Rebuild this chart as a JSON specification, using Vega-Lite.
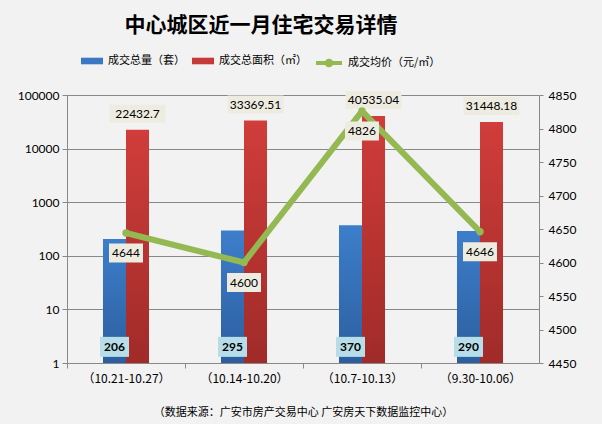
{
  "$schema": "https://vega.github.io/schema/vega-lite/v6.json",
  "width": 472,
  "height": 268,
  "autosize": {"type": "none"},
  "padding": {"left": 67, "top": 95, "right": 63, "bottom": 61},
  "background": "#f2f2f2",
  "config": {
    "view": {"stroke": null},
    "font": "Noto Sans CJK SC",
    "axis": {
      "labelFont": "Lato",
      "labelFontSize": 12,
      "labelColor": "#000000",
      "domainColor": "#888888",
      "tickColor": "#888888",
      "gridColor": "#888888",
      "domainWidth": 1,
      "tickWidth": 1,
      "gridWidth": 1,
      "title": null
    }
  },
  "title": {
    "text": "中心城区近一月住宅交易详情",
    "font": "Noto Sans CJK SC",
    "fontSize": 21,
    "fontWeight": "bold",
    "color": "#000000",
    "anchor": "middle",
    "frame": "group",
    "dx": -42,
    "offset": 12
  },
  "datasets": {
    "bars": [
      {"period": "（10.21-10.27）", "series": "成交总量（套）", "value": 206},
      {"period": "（10.21-10.27）", "series": "成交总面积（㎡）", "value": 22432.7},
      {"period": "（10.14-10.20）", "series": "成交总量（套）", "value": 295},
      {"period": "（10.14-10.20）", "series": "成交总面积（㎡）", "value": 33369.51},
      {"period": "（10.7-10.13）", "series": "成交总量（套）", "value": 370},
      {"period": "（10.7-10.13）", "series": "成交总面积（㎡）", "value": 40535.04},
      {"period": "（9.30-10.06）", "series": "成交总量（套）", "value": 290},
      {"period": "（9.30-10.06）", "series": "成交总面积（㎡）", "value": 31448.18}
    ],
    "price": [
      {"period": "（10.21-10.27）", "price": 4644},
      {"period": "（10.14-10.20）", "price": 4600},
      {"period": "（10.7-10.13）", "price": 4826},
      {"period": "（9.30-10.06）", "price": 4646}
    ]
  },
  "layer": [
    {
      "data": {"name": "bars"},
      "encoding": {
        "x": {
          "field": "period",
          "type": "nominal",
          "scale": {
            "domain": ["（10.21-10.27）", "（10.14-10.20）", "（10.7-10.13）", "（9.30-10.06）"],
            "paddingInner": 0.61,
            "paddingOuter": 0.305
          },
          "axis": {
            "orient": "bottom",
            "labelFont": "Noto Sans CJK SC",
            "labelFontSize": 12,
            "labelAngle": 0,
            "tickSize": 5,
            "tickOffset": -59,
            "labelOffset": 59,
            "labelPadding": 5,
            "title": "（数据来源：广安市房产交易中心 广安房天下数据监控中心）",
            "titleFont": "Noto Sans CJK SC",
            "titleFontSize": 11,
            "titleFontWeight": "normal",
            "titleColor": "#000000",
            "titlePadding": 22
          }
        },
        "xOffset": {
          "field": "series",
          "type": "nominal",
          "scale": {"domain": ["成交总量（套）", "成交总面积（㎡）"], "paddingInner": 0, "paddingOuter": 0}
        }
      },
      "layer": [
        {
          "mark": {"type": "bar"},
          "encoding": {
            "y": {
              "field": "value",
              "type": "quantitative",
              "scale": {"type": "log", "domain": [1, 100000], "nice": false},
              "axis": {
                "orient": "left",
                "values": [1, 10, 100, 1000, 10000, 100000],
                "format": "d",
                "grid": true,
                "tickSize": 5,
                "labelPadding": 3
              }
            },
            "y2": {"datum": 1},
            "color": {
              "field": "series",
              "type": "nominal",
              "scale": {"domain": ["成交总量（套）", "成交总面积（㎡）"], "range": ["#3a78c4", "#c43a37"]},
              "condition": [
                {"test": "datum.series === '成交总量（套）'", "value": {"gradient": "linear", "x1": 0, "y1": 0, "x2": 0, "y2": 1, "stops": [{"offset": 0, "color": "#3d7ecb"}, {"offset": 1, "color": "#2c5e9f"}]}},
                {"test": "datum.series === '成交总面积（㎡）'", "value": {"gradient": "linear", "x1": 0, "y1": 0, "x2": 0, "y2": 1, "stops": [{"offset": 0, "color": "#d03d3a"}, {"offset": 1, "color": "#a02b29"}]}}
              ],
              "legend": {
                "orient": "none",
                "legendX": 14,
                "legendY": -45,
                "direction": "horizontal",
                "title": null,
                "padding": 0,
                "symbolType": "M-1,-0.3L1,-0.3L1,0.3L-1,0.3Z",
                "symbolSize": 484,
                "symbolStrokeWidth": 0,
                "labelFont": "Noto Sans CJK SC",
                "labelFontSize": 11,
                "labelColor": "#000000",
                "labelOffset": 5,
                "columnPadding": 7
              }
            }
          }
        },
        {
          "transform": [{"filter": "datum.series === '成交总面积（㎡）'"}],
          "mark": {"type": "point", "shape": "M-1,-0.321L1,-0.321L1,0.321L-1,0.321Z", "size": 3136, "filled": true, "color": "#eeece1", "opacity": 1, "strokeWidth": 0, "yOffset": -16},
          "encoding": {"y": {"field": "value", "type": "quantitative"}}
        },
        {
          "transform": [{"filter": "datum.series === '成交总面积（㎡）'"}],
          "mark": {"type": "text", "font": "Lato", "fontSize": 12, "color": "#000000", "baseline": "middle", "align": "center", "yOffset": -16},
          "encoding": {"y": {"field": "value", "type": "quantitative"}, "text": {"field": "value", "type": "nominal"}}
        },
        {
          "transform": [{"filter": "datum.series === '成交总量（套）'"}],
          "mark": {"type": "point", "shape": "M-1,-0.69L1,-0.69L1,0.69L-1,0.69Z", "size": 841, "filled": true, "color": "#b7dee8", "opacity": 1, "strokeWidth": 0},
          "encoding": {"y": {"datum": 2, "type": "quantitative"}}
        },
        {
          "transform": [{"filter": "datum.series === '成交总量（套）'"}],
          "mark": {"type": "text", "font": "Lato", "fontSize": 12, "fontWeight": "bold", "color": "#000000", "baseline": "middle", "align": "center"},
          "encoding": {"y": {"datum": 2, "type": "quantitative"}, "text": {"field": "value", "type": "nominal"}}
        }
      ]
    },
    {
      "data": {"name": "price"},
      "encoding": {
        "x": {
          "field": "period",
          "type": "nominal",
          "scale": {
            "domain": ["（10.21-10.27）", "（10.14-10.20）", "（10.7-10.13）", "（9.30-10.06）"],
            "paddingInner": 0.61,
            "paddingOuter": 0.305
          }
        },
        "y": {
          "field": "price",
          "type": "quantitative",
          "scale": {"domain": [4450, 4850], "nice": false, "zero": false},
          "axis": {
            "orient": "right",
            "values": [4450, 4500, 4550, 4600, 4650, 4700, 4750, 4800, 4850],
            "format": "d",
            "grid": false,
            "tickSize": 4,
            "labelPadding": 5
          }
        }
      },
      "layer": [
        {
          "mark": {"type": "line", "strokeWidth": 6, "strokeCap": "round", "strokeJoin": "round"},
          "encoding": {
            "stroke": {
              "datum": "成交均价（元/㎡）",
              "scale": {"range": ["#94b852"]},
              "legend": {
                "orient": "none",
                "legendX": 247,
                "legendY": -47,
                "title": null,
                "padding": 0,
                "symbolType": "M-1,0L1,0M-0.18,0A0.18,0.18,0,1,1,0.18,0A0.18,0.18,0,1,1,-0.18,0Z",
                "symbolSize": 676,
                "symbolStrokeWidth": 4,
                "labelFont": "Noto Sans CJK SC",
                "labelFontSize": 11,
                "labelColor": "#000000",
                "labelOffset": 4
              }
            }
          }
        },
        {
          "mark": {"type": "point", "filled": true, "size": 55, "color": "#94b852", "opacity": 1}
        },
        {
          "mark": {"type": "point", "shape": "M-1,-0.559L1,-0.559L1,0.559L-1,0.559Z", "size": 1156, "filled": true, "color": "#eeece1", "opacity": 1, "strokeWidth": 0, "yOffset": 20}
        },
        {
          "mark": {"type": "text", "font": "Lato", "fontSize": 12, "color": "#000000", "baseline": "middle", "align": "center", "yOffset": 20},
          "encoding": {"text": {"field": "price", "type": "nominal"}}
        }
      ]
    }
  ],
  "resolve": {"scale": {"y": "independent"}}
}
